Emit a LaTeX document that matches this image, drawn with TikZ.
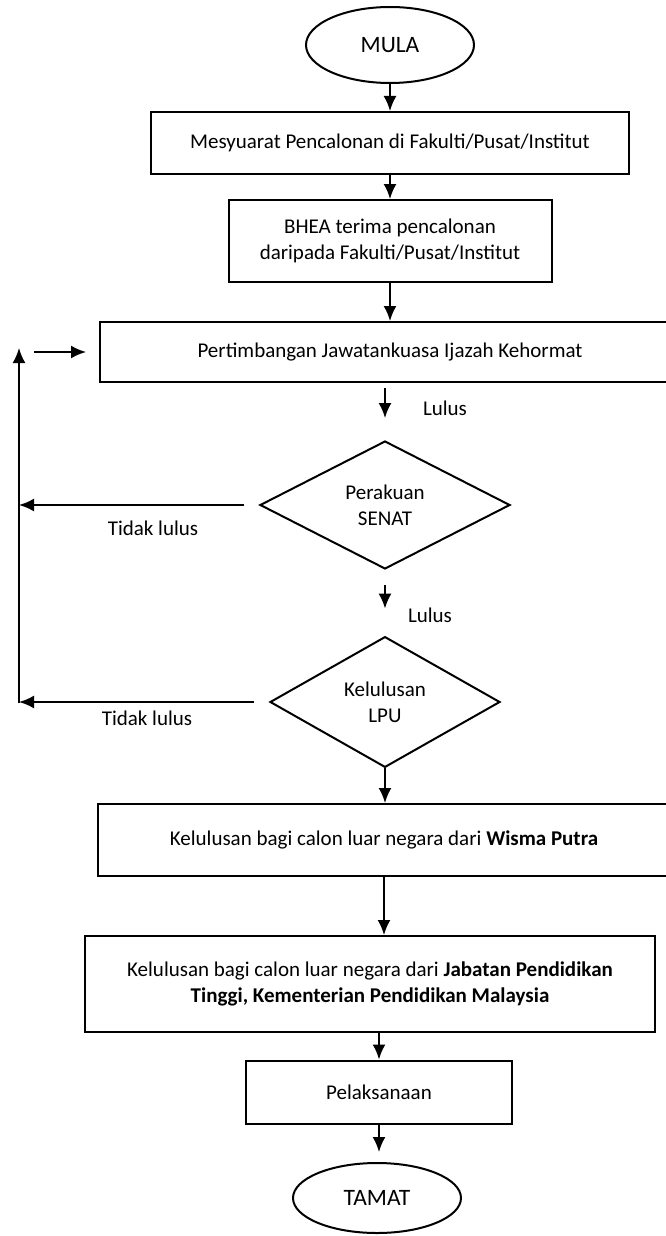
\documentclass[tikz,border=0pt]{standalone}
\usepackage{fontspec}
\setmainfont{Carlito}
\usetikzlibrary{shapes.geometric,arrows.meta}

\begin{document}
\begin{tikzpicture}[x=1pt, y=-1pt, node distance=100pt, font=\fontsize{21}{26}\selectfont]
    \tikzstyle{arrow} = [line width=2pt, -{Latex[length=15pt, width=13pt]}]
    \tikzstyle{proc} = [rectangle, line width=2pt, align=center, text centered, draw = black]
    \tikzstyle{term} = [ellipse, line width=2pt, draw = black, font=\fontsize{23.5}{28}\selectfont]
    \tikzstyle{decision} = [diamond, line width=2pt, align=center, inner sep=2pt, minimum height=124pt, draw = black]
    \useasboundingbox (0,0) rectangle (666,1236);

    \node[term, minimum width=168pt, minimum height=76pt](S) at (390,45){MULA};
    \node[proc, below of = S, yshift = 2pt, minimum width=478pt, minimum height=62pt](B1){Mesyuarat Pencalonan di Fakulti/Pusat/Institut};
    \node[proc, below of = B1, yshift = 2pt, minimum width=323pt, minimum height=82pt](B2){BHEA terima pencalonan\\daripada Fakulti/Pusat/Institut};
    \node[proc, below of = B2, yshift = -11pt, minimum width=580pt, minimum height=60pt](B3){Pertimbangan Jawatankuasa Ijazah Kehormat};
    \node[decision, below of = B3, yshift = -53pt, xshift = -5pt, minimum width=250pt](D1){Perakuan\\SENAT};
    \node[decision, below of = D1, yshift = -97pt, minimum width=230pt](D2){Kelulusan\\LPU};
    \node[proc, below of = D2, yshift = -38pt, xshift = -1pt, minimum width=572pt, minimum height=72pt](B4){Kelulusan bagi calon luar negara dari \textbf{Wisma Putra}};
    \node[proc, below of = B4, yshift = -44pt, xshift = -14pt, minimum width=570pt, minimum height=96pt](B5){Kelulusan bagi calon luar negara dari \textbf{Jabatan Pendidikan}\\\textbf{Tinggi, Kementerian Pendidikan Malaysia}};
    \node[proc, below of = B5, yshift = -8pt, xshift = 9pt, minimum width=266pt, minimum height=63pt](B6){Pelaksanaan};
    \node[term, below of = B6, yshift = -6pt, xshift = -2pt, minimum width=168pt, minimum height=70pt](E){TAMAT};

    \node(text1) at (445,408){Lulus};
    \node(text2) at (430,615){Lulus};
    \node(text3) at (153,528){Tidak lulus};
    \node(text4) at (147,718){Tidak lulus};

    \coordinate (loopT) at (19,348);
    \coordinate (loopB) at (19,703);
    \coordinate (entry) at (34,352);

    \draw[arrow] (S) -- (B1);
    \draw[arrow] (B1) -- (B2);
    \draw[arrow] (B2) -- (B3);
    \draw[arrow, shorten <= 5pt, shorten >= 22pt] (B3.south -| D1) -- (D1.north);
    \draw[arrow, shorten <= 15pt, shorten >= 27pt] (D1) -- (D2);
    \draw[arrow] (D2.south) -- (D2.south |- B4.north);
    \draw[arrow] (B4) -- (B4 |- B5.north);
    \draw[arrow] (B5.south -| B6) -- (B6);
    \draw[arrow, shorten >= 10pt] (B6.south) -- (B6.south |- E.north);
    \draw[arrow, shorten <= 15pt] (D1.west) -- (D1.west -| loopT);
    \draw[arrow, shorten <= 15pt] (D2.west) -- (D2.west -| loopB);
    \draw[arrow] (loopB) -- (loopT);
    \draw[arrow, shorten >= 13pt] (entry) -- (B3.west);
\end{tikzpicture}
\end{document}
